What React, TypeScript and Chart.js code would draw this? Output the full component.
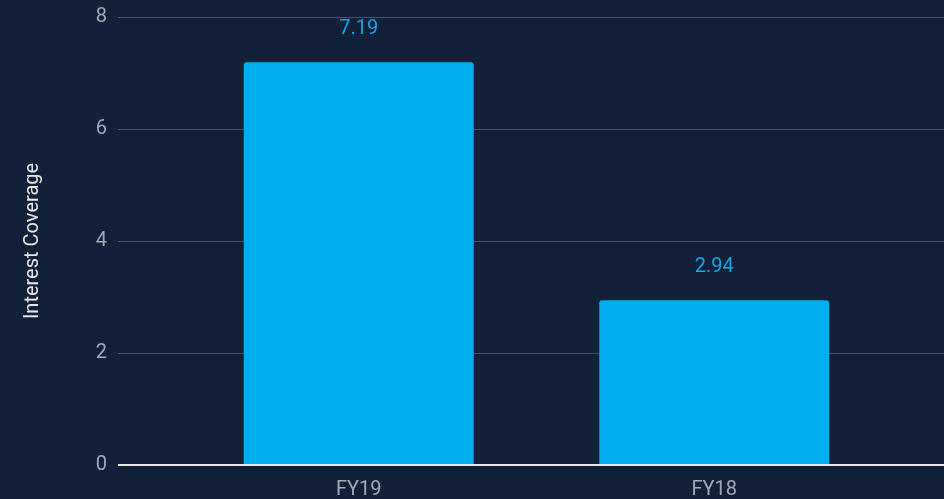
import React, { useEffect, useRef } from "react";
import { Chart, registerables } from "chart.js";

Chart.register(...registerables);

const categories: string[] = ["FY19", "FY18"];
const interestCoverage: number[] = [7.19, 2.94];
const yAxisTitle = "Interest Coverage";
const yMin = 0;
const yMax = 8;
const yStep = 2;

const BG = "#13203a";
const BAR = "#00adef";
const LABEL = "#0fa8e6";
const TICK = "#a3aab5";
const GRID = "#485468";
const ZERO = "#e6e6e6";
const FONT = "Roboto";

export default function App() {
  const ref = useRef<HTMLCanvasElement | null>(null);

  useEffect(() => {
    document.body.style.margin = "0";
    document.body.style.background = BG;
    document.body.style.overflow = "hidden";
    const canvas = ref.current;
    if (!canvas) return;

    const gridColor = (c: any) => (c.tick && c.tick.value === 0 ? ZERO : GRID);
    const gridWidth = (c: any) => (c.tick && c.tick.value === 0 ? 2 : 1);

    const valueLabels = {
      id: "valueLabels",
      afterDatasetsDraw(chart: any) {
        const ctx = chart.ctx;
        const meta = chart.getDatasetMeta(0);
        ctx.save();
        ctx.font = `20px ${FONT}`;
        ctx.fillStyle = LABEL;
        ctx.textAlign = "center";
        ctx.textBaseline = "middle";
        meta.data.forEach((bar: any, i: number) => {
          ctx.fillText(interestCoverage[i].toFixed(2), bar.x, bar.y - 33);
        });
        ctx.restore();
      },
    };

    const chart = new Chart(canvas, {
      type: "bar",
      data: {
        labels: categories,
        datasets: [
          {
            data: interestCoverage,
            backgroundColor: BAR,
            borderRadius: 3,
            borderSkipped: "bottom",
            categoryPercentage: 1,
            barPercentage: 0.647,
            yAxisID: "y",
          },
        ],
      },
      options: {
        responsive: false,
        animation: false,
        layout: { padding: { top: 1, left: 0, right: 0, bottom: 0 } },
        plugins: {
          legend: { display: false },
          tooltip: { enabled: false },
        },
        scales: {
          x: {
            grid: { display: false },
            border: { display: false },
            ticks: {
              color: TICK,
              font: { family: FONT, size: 20 },
              padding: 5,
            },
          },
          y: {
            position: "left",
            min: yMin,
            max: yMax,
            ticks: {
              stepSize: yStep,
              color: TICK,
              font: { family: FONT, size: 20 },
              padding: 11,
            },
            grid: {
              color: gridColor,
              lineWidth: gridWidth,
              drawTicks: true,
              tickLength: 63,
            },
            border: { display: false },
            title: {
              display: true,
              text: yAxisTitle,
              color: ZERO,
              font: { family: FONT, size: 20 },
              padding: { top: 21, bottom: 0 },
            },
            afterFit: (s: any) => {
              s.width = 181;
            },
          },
          y2: {
            position: "right",
            min: yMin,
            max: yMax,
            ticks: { display: false, stepSize: yStep },
            grid: {
              color: gridColor,
              lineWidth: gridWidth,
              drawTicks: true,
              tickLength: 52,
            },
            border: { display: false },
            afterFit: (s: any) => {
              s.width = 52;
            },
          },
        },
      },
      plugins: [valueLabels],
    });

    return () => chart.destroy();
  }, []);

  return (
    <div style={{ width: 944, height: 499, overflow: "hidden", background: BG }}>
      <canvas
        ref={ref}
        width={944}
        height={513}
        style={{ display: "block", marginTop: -6 }}
      />
    </div>
  );
}
